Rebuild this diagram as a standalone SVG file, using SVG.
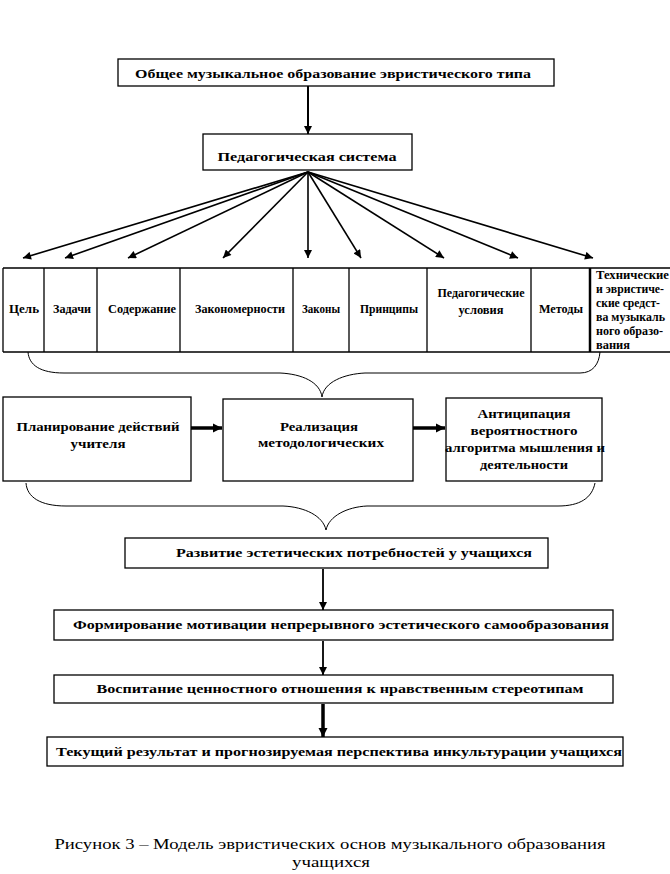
<svg xmlns="http://www.w3.org/2000/svg" width="670" height="874" viewBox="0 0 670 874">
<style>
rect.b{fill:#fff;stroke:#000;stroke-width:1.3}
text{font-family:"Liberation Serif","Times New Roman",serif;font-weight:bold;font-size:12px;fill:#000}
text.c{text-anchor:middle}
text.cap{font-weight:normal;font-size:14px;text-anchor:middle}
.ln{stroke:#000;fill:none}
</style>
<defs>
<marker id="ah" viewBox="0 0 10 10" refX="10" refY="5" markerWidth="9" markerHeight="8" markerUnits="userSpaceOnUse" orient="auto"><path d="M0,0 L10,5 L0,10 z"/></marker>
<marker id="ahb" viewBox="0 0 10 10" refX="10" refY="5" markerWidth="9" markerHeight="10" markerUnits="userSpaceOnUse" orient="auto"><path d="M0,0 L10,5 L0,10 z"/></marker>
</defs>

<g id="connectors">
<line class="ln" x1="308" y1="86" x2="308" y2="134" stroke-width="2" marker-end="url(#ah)"/>
<g stroke-width="1.6" class="ln">
<line x1="308" y1="172" x2="23" y2="258" marker-end="url(#ah)"/>
<line x1="308" y1="172" x2="65" y2="258" marker-end="url(#ah)"/>
<line x1="308" y1="172" x2="128" y2="258" marker-end="url(#ah)"/>
<line x1="308" y1="172" x2="223" y2="258" marker-end="url(#ah)"/>
<line x1="308" y1="172" x2="308" y2="258" marker-end="url(#ah)"/>
<line x1="308" y1="172" x2="361" y2="258" marker-end="url(#ah)"/>
<line x1="308" y1="172" x2="444" y2="258" marker-end="url(#ah)"/>
<line x1="308" y1="172" x2="518" y2="258" marker-end="url(#ah)"/>
<line x1="308" y1="172" x2="593" y2="258" marker-end="url(#ah)"/>
</g>
<path class="ln" stroke-width="1" d="M28,352 C29,365 40,373 64,373 L280,373 C302,374 320,382 322,397 C324,382 344,374 365,373 L580,373 C593,373 599,364 600,352"/>
<line class="ln" x1="191" y1="428" x2="222" y2="428" stroke-width="3.5" marker-end="url(#ahb)"/>
<line class="ln" x1="413" y1="428" x2="445" y2="428" stroke-width="3.5" marker-end="url(#ahb)"/>
<path class="ln" stroke-width="1" d="M26,483 C27,497 40,506 66,506 L283,506 C305,507 323,516 326,530 C329,516 347,507 367,506 L558,506 C580,506 592,498 595,483"/>
<line class="ln" x1="323" y1="569" x2="323" y2="610" stroke-width="1.8" marker-end="url(#ah)"/>
<line class="ln" x1="323" y1="641" x2="323" y2="675" stroke-width="1.8" marker-end="url(#ah)"/>
<line class="ln" x1="323" y1="704" x2="323" y2="737" stroke-width="3.5" marker-end="url(#ahb)"/>
</g>

<g id="n-top"><rect class="b" x="118" y="59" width="436" height="27"/>
<text class="c" x="333" y="78" font-size="13" textLength="396" lengthAdjust="spacingAndGlyphs">Общее музыкальное образование эвристического типа</text></g>

<g id="n-ped"><rect class="b" x="203" y="134" width="209" height="36"/>
<text class="c" x="307" y="161" font-size="13" textLength="179" lengthAdjust="spacingAndGlyphs">Педагогическая система</text></g>

<g id="n-table">
<path class="ln" stroke-width="1.3" d="M3,268 H670 M3,352 H670 M3,268 V352 M44,268 V352 M97,268 V352 M180,268 V352 M293,268 V352 M349,268 V352 M427,268 V352 M531,268 V352"/>
<line class="ln" x1="590" y1="268" x2="590" y2="352" stroke-width="2.5"/>
<text class="c" x="24" y="313" font-size="11" textLength="30" lengthAdjust="spacingAndGlyphs">Цель</text>
<text class="c" x="72" y="313" font-size="11" textLength="38" lengthAdjust="spacingAndGlyphs">Задачи</text>
<text class="c" x="142" y="313" font-size="11" textLength="68" lengthAdjust="spacingAndGlyphs">Содержание</text>
<text class="c" x="240" y="313" font-size="11" textLength="90" lengthAdjust="spacingAndGlyphs">Закономерности</text>
<text class="c" x="321" y="313" font-size="11" textLength="38" lengthAdjust="spacingAndGlyphs">Законы</text>
<text class="c" x="389" y="313" font-size="11" textLength="58" lengthAdjust="spacingAndGlyphs">Принципы</text>
<text class="c" x="481" y="297" font-size="11" textLength="87" lengthAdjust="spacingAndGlyphs">Педагогические</text>
<text class="c" x="481" y="314" font-size="11" textLength="45" lengthAdjust="spacingAndGlyphs">условия</text>
<text class="c" x="561" y="313" font-size="11" textLength="44" lengthAdjust="spacingAndGlyphs">Методы</text>
<text x="596" y="279" font-size="11" textLength="73" lengthAdjust="spacingAndGlyphs">Технические</text>
<text x="596" y="293" font-size="11" textLength="68" lengthAdjust="spacingAndGlyphs">и эвристиче-</text>
<text x="596" y="307" font-size="11" textLength="64" lengthAdjust="spacingAndGlyphs">ские средст-</text>
<text x="596" y="321" font-size="11" textLength="69" lengthAdjust="spacingAndGlyphs">ва музыкаль</text>
<text x="596" y="335" font-size="11" textLength="67" lengthAdjust="spacingAndGlyphs">ного образо-</text>
<text x="596" y="349" font-size="11" textLength="34" lengthAdjust="spacingAndGlyphs">вания</text>
</g>

<g id="n-plan"><rect class="b" x="3" y="397" width="188" height="84"/>
<text class="c" x="98" y="431" font-size="13" textLength="163" lengthAdjust="spacingAndGlyphs">Планирование действий</text>
<text class="c" x="98" y="448" font-size="13" textLength="55" lengthAdjust="spacingAndGlyphs">учителя</text></g>

<g id="n-real"><rect class="b" x="223" y="399" width="190" height="82"/>
<text class="c" x="319" y="431" font-size="13" textLength="78" lengthAdjust="spacingAndGlyphs">Реализация</text>
<text class="c" x="321" y="447" font-size="13" textLength="126" lengthAdjust="spacingAndGlyphs">методологических</text></g>

<g id="n-anti"><rect class="b" x="446" y="398" width="156" height="83"/>
<text class="c" x="524" y="418" font-size="13" textLength="93" lengthAdjust="spacingAndGlyphs">Антиципация</text>
<text class="c" x="524" y="435" font-size="13" textLength="107" lengthAdjust="spacingAndGlyphs">вероятностного</text>
<text class="c" x="525" y="452" font-size="13" textLength="160" lengthAdjust="spacingAndGlyphs">алгоритма мышления и</text>
<text class="c" x="524" y="469" font-size="13" textLength="88" lengthAdjust="spacingAndGlyphs">деятельности</text></g>

<g id="n-dev"><rect class="b" x="125" y="538" width="423" height="30"/>
<text class="c" x="354" y="557" font-size="13" textLength="356" lengthAdjust="spacingAndGlyphs">Развитие эстетических потребностей у учащихся</text></g>

<g id="n-form"><rect class="b" x="54" y="610" width="559" height="30"/>
<text class="c" x="341" y="629" font-size="13" textLength="536" lengthAdjust="spacingAndGlyphs">Формирование мотивации непрерывного эстетического самообразования</text></g>

<g id="n-vosp"><rect class="b" x="54" y="675" width="559" height="28"/>
<text class="c" x="340" y="693" font-size="13" textLength="487" lengthAdjust="spacingAndGlyphs">Воспитание ценностного отношения к нравственным стереотипам</text></g>

<g id="n-res"><rect class="b" x="47" y="737" width="576" height="29"/>
<text class="c" x="339" y="756" font-size="13" textLength="566" lengthAdjust="spacingAndGlyphs">Текущий результат и прогнозируемая перспектива инкультурации учащихся</text></g>

<g id="caption">
<text class="cap" x="330" y="849" textLength="551" lengthAdjust="spacingAndGlyphs">Рисунок 3 –  Модель эвристических основ музыкального образования</text>
<text class="cap" x="331" y="867" textLength="78" lengthAdjust="spacingAndGlyphs">учащихся</text>
</g>
</svg>
